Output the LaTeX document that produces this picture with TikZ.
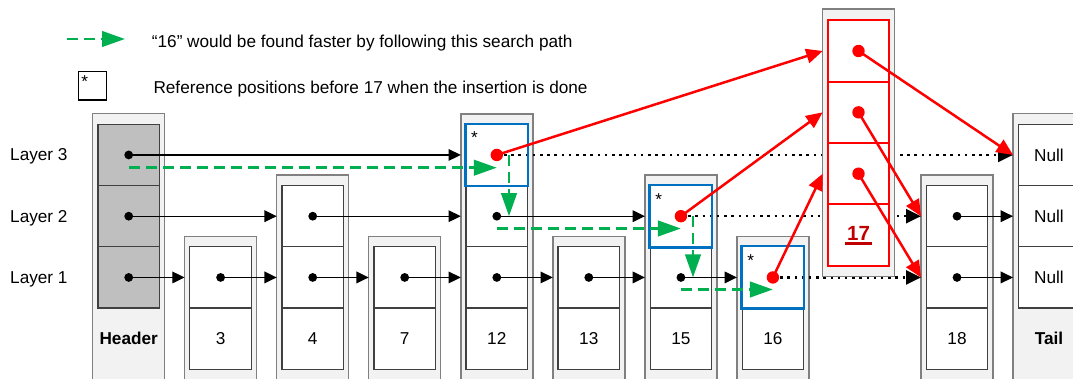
\documentclass[tikz,border=0pt]{standalone}
\usepackage{fontspec}
\setmainfont{Liberation Sans}
\usetikzlibrary{arrows.meta,calc}
\definecolor{boxfill}{HTML}{F2F2F2}
\definecolor{boxline}{HTML}{808080}
\definecolor{cellline}{HTML}{404040}
\definecolor{hdrfill}{HTML}{BFBFBF}
\definecolor{srchgreen}{HTML}{00B050}
\definecolor{refblue}{HTML}{0070C0}
\definecolor{newred}{HTML}{FF0000}
\definecolor{darkred}{HTML}{C00000}
\tikzset{
  outerbox/.style={draw=boxline, fill=boxfill, line width=1.4pt},
  cellbox/.style={draw=cellline, line width=1.2pt, fill=white, minimum width=61.5pt, minimum height=61.25pt, inner sep=0pt},
  redcell/.style={draw=newred, line width=2.2pt, fill=white, minimum width=61.6pt, minimum height=61.35pt, inner sep=0pt},
  txt/.style={font=\fontsize{17.2}{20}\selectfont, inner sep=0pt},
  txtb/.style={font=\fontsize{17.2}{20}\selectfont\bfseries, inner sep=0pt},
  blk/.style={-{Triangle[length=12.3pt,width=11.7pt]}, line width=1.2pt, black},
  dotarr/.style={-{Triangle[length=15pt,width=14pt]}, line width=2.5pt, black, dash pattern=on 2.5pt off 4.7pt},
  redarr/.style={-{Triangle[length=16.5pt,width=14.5pt]}, line width=2.5pt, newred},
  grn/.style={-{Triangle[length=23pt,width=15.5pt]}, line width=2.7pt, srchgreen, dash pattern=on 11pt off 6pt},
  bluebox/.style={draw=refblue, line width=2.4pt},
}
\newcommand\skcol[4]{%
  \draw[outerbox] (#2,{338.7-61.25*#3-41.125}) rectangle ({#2+72},395);
  \foreach \k in {1,...,#3}{%
    \node[cellbox] (#1-\k) at ({#2+36},{338.7-61.25*\k}) {};
    \coordinate (#1-in\k) at (#2,{338.7-61.25*\k});
  }
  \node[cellbox,txt,minimum width=61.5pt,minimum height=61.25pt] (#1-v) at ({#2+36},338.7) {#4};
}
\begin{document}
\begin{tikzpicture}[x=1pt,y=-1pt]
\path[use as bounding box] (0,0) rectangle (1073,379);
\clip (0,0) rectangle (1073,379);

% legend
\coordinate (lg0) at (66.7,39);
\coordinate (lg1) at (125,39);
\draw[grn] (lg0) -- (lg1);
\node[txt, anchor=base west] (leg1) at (151.7,47.3) {“16” would be found faster by following this search path};
\draw[black, line width=1.2pt] (78.3,71.7) rectangle (106.7,100);
\node[txt, anchor=base west] (legstar) at (81.2,87.2) {*};
\node[txt, anchor=base west] (leg2) at (153.3,94) {Reference positions before 17 when the insertion is done};

% layer labels
\node[txt, anchor=base west] (lay3) at (10,161) {Layer 3};
\node[txt, anchor=base west] (lay2) at (10,222.3) {Layer 2};
\node[txt, anchor=base west] (lay1) at (10,283.5) {Layer 1};

% header
\draw[outerbox] (92.7,113.8) rectangle (164.7,395);
\foreach \k in {1,2,3}{%
  \node[cellbox, fill=hdrfill] (H-\k) at (128.7,{338.7-61.25*\k}) {};
}
\node[txtb] (H-v) at (128.7,338.7) {Header};

% tail
\draw[outerbox] (1013,113.8) rectangle (1085,395);
\foreach \k in {1,2,3}{%
  \node[cellbox, txt, minimum width=61.5pt, minimum height=61.25pt] (T-\k) at (1049,{338.7-61.25*\k}) {Null};
  \coordinate (T-in\k) at (1013,{338.7-61.25*\k});
}
\node[txtb] (T-v) at (1049,338.7) {Tail};

% columns
\skcol{n3}{184.6}{1}{3}
\skcol{n4}{276.7}{2}{4}
\skcol{n7}{368.7}{1}{7}
\skcol{n12}{460.8}{3}{12}
\skcol{n13}{552.8}{1}{13}
\skcol{n15}{644.9}{2}{15}
\skcol{n16}{736.9}{1}{16}
\skcol{n18}{921}{2}{18}

% black links
\draw[blk] (H-3.center) -- (n12-in3);
\draw[blk] (H-2.center) -- (n4-in2);
\draw[blk] (n4-2.center) -- (n12-in2);
\draw[blk] (n12-2.center) -- (n15-in2);
\draw[blk] (H-1.center) -- (n3-in1);
\draw[blk] (n3-1.center) -- (n4-in1);
\draw[blk] (n4-1.center) -- (n7-in1);
\draw[blk] (n7-1.center) -- (n12-in1);
\draw[blk] (n12-1.center) -- (n13-in1);
\draw[blk] (n13-1.center) -- (n15-in1);
\draw[blk] (n15-1.center) -- (n16-in1);
\draw[blk] (n18-2.center) -- (T-in2);
\draw[blk] (n18-1.center) -- (T-in1);
\draw[dotarr] (n12-3.center) -- (T-in3);
\draw[dotarr] (n15-2.center) -- (n18-in2);
\draw[dotarr] (n16-1.center) -- (n18-in1);

\foreach \n in {H-1,H-2,H-3,n3-1,n4-1,n4-2,n7-1,n12-1,n12-2,n13-1,n15-1,n18-1,n18-2}
  \fill[black] (\n.center) circle[radius=4.4pt];

% new node 17
\draw[outerbox] (822.7,9) rectangle (894.3,276.7);
\node[redcell] (s17-3) at (858.5,51) {};
\node[redcell] (s17-2) at (858.5,112.35) {};
\node[redcell] (s17-1) at (858.5,173.7) {};
\node[redcell] (s17-v) at (858.5,235.05) {};
\coordinate (s17-in3) at (822.7,51);
\coordinate (s17-in2) at (822.7,112.35);
\coordinate (s17-in1) at (822.7,173.7);
\node[font=\fontsize{20.5}{24}\selectfont\bfseries, text=darkred, anchor=base, inner sep=0pt] (l17) at (858.5,240.7) {17};
\draw[darkred, line width=2.2pt] ($(l17.base west)+(-1.5,2.8)$) -- ($(l17.base east)+(1.5,2.8)$);

% reference positions
\draw[bluebox] (n12-3.north west) rectangle (n12-3.south east);
\draw[bluebox] (n15-2.north west) rectangle (n15-2.south east);
\draw[bluebox] (n16-1.north west) rectangle (n16-1.south east);
\node[txt, anchor=base west] (st12) at ($(n12-3.north west)+(5.5,19.5)$) {*};
\node[txt, anchor=base west] (st15) at ($(n15-2.north west)+(5.5,20.5)$) {*};
\node[txt, anchor=base west] (st16) at ($(n16-1.north west)+(5.5,20.5)$) {*};

% red links
\draw[redarr] (n12-3.center) -- (s17-in3);
\draw[redarr] (n15-2.center) -- (s17-in2);
\draw[redarr] (n16-1.center) -- (s17-in1);
\draw[redarr] (s17-3.center) -- (T-in3);
\draw[redarr] (s17-2.center) -- (n18-in2);
\draw[redarr] (s17-1.center) -- (n18-in1);
\foreach \n in {n12-3,n15-2,n16-1,s17-1,s17-2,s17-3}
  \fill[newred] (\n.center) circle[radius=6.2pt];

% green search path
\coordinate (g0) at (128.7,167.7);
\coordinate (g1) at (496.8,167.7);
\coordinate (g2) at (509,155);
\coordinate (g3) at (509,216.2);
\coordinate (g4) at (496.8,228.5);
\coordinate (g5) at (680.9,228.5);
\coordinate (g6) at (693,216.2);
\coordinate (g7) at (693,277.4);
\coordinate (g8) at (680.9,289.5);
\coordinate (g9) at (772.9,289.5);
\draw[grn] (g0) -- (g1);
\draw[grn] (g2) -- (g3);
\draw[grn] (g4) -- (g5);
\draw[grn] (g6) -- (g7);
\draw[grn] (g8) -- (g9);
\end{tikzpicture}
\end{document}
